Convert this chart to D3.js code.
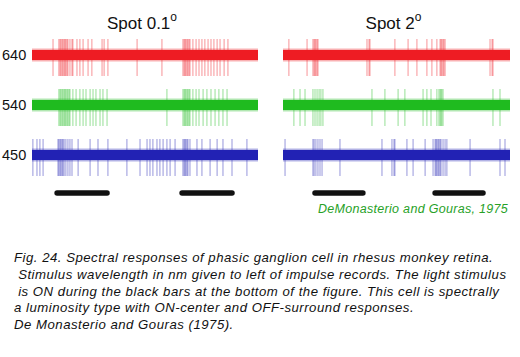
<!DOCTYPE html>
<html><head><meta charset="utf-8">
<script src="https://cdn.jsdelivr.net/npm/d3@7"></script>
<style>
body{margin:0;background:#fff;}
svg{display:block;font-family:"Liberation Sans",Arial,Helvetica,sans-serif;}
</style></head>
<body>
<svg id="chart" width="520" height="357"></svg>
<script>
// ---- data (time in % of record) ----
const wavelengths = ["640", "540", "450"];
const traceColors = ["#ee1c23", "#1fbb1f", "#2222b4"];
const panelTitles = ["Spot 0.1", "Spot 2"];

const spikesSpot01_640 = [9.3, 11.9, 12.4, 12.8, 13.3, 13.7, 14.2, 14.6, 15.0, 15.5, 15.9, 16.8, 17.7, 18.1, 19.9, 21.2, 22.6, 24.8, 26.5, 31.0, 31.9, 33.6, 46.5, 57.5, 66.8, 67.3, 67.7, 68.1, 68.6, 69.0, 69.5, 69.9, 71.2, 72.6, 73.9, 75.2, 76.5, 77.9, 79.2, 80.5, 81.9, 83.2, 85.0, 86.7];
const spikesSpot01_540 = [11.9, 12.4, 12.8, 13.3, 13.7, 14.2, 14.6, 15.0, 15.5, 15.9, 16.4, 16.8, 18.1, 19.5, 21.2, 22.6, 23.9, 25.7, 27.0, 28.3, 30.1, 31.4, 33.2, 59.7, 66.8, 67.3, 67.7, 68.1, 68.6, 69.0, 69.5, 69.9, 71.2, 72.6, 73.9, 75.7, 77.4, 79.2, 81.0, 82.7, 84.5, 86.3];
const spikesSpot01_450 = [0.4, 2.2, 3.5, 4.9, 11.5, 11.9, 12.4, 12.8, 13.3, 13.7, 14.2, 15.0, 15.9, 16.8, 17.7, 20.4, 25.7, 29.2, 33.6, 42.0, 47.8, 50.9, 52.2, 53.5, 55.3, 56.6, 58.0, 59.7, 61.1, 63.3, 66.8, 67.3, 67.7, 68.1, 68.6, 69.0, 69.9, 73.0, 75.2, 78.8, 81.9, 84.5, 88.5, 95.1];

const spikesSpot2_640 = [2.6, 10.6, 13.2, 13.7, 14.1, 14.5, 15.0, 15.4, 37.0, 37.9, 38.3, 49.3, 55.1, 59.0, 63.4, 65.6, 67.8, 69.2, 69.6, 70.0, 70.5, 70.9, 71.4, 91.2, 92.1, 92.5];
const spikesSpot2_540 = [4.8, 7.5, 9.7, 13.2, 14.1, 15.0, 15.9, 16.7, 17.6, 39.2, 44.9, 50.7, 53.7, 61.7, 63.4, 65.2, 67.8, 68.7, 69.2, 69.6, 70.0, 70.5, 92.5, 95.6];
const spikesSpot2_450 = [0.9, 13.2, 13.7, 14.5, 15.4, 16.3, 17.2, 25.1, 43.6, 48.0, 48.9, 49.3, 54.6, 57.3, 62.6, 66.1, 67.0, 67.4, 67.8, 68.3, 68.7, 69.2, 69.6, 70.5, 71.4, 72.2, 82.4, 95.6, 97.8];

const stimulusSpot01 = [[11.1, 33.2], [66.4, 88.5]];
const stimulusSpot2 = [[14.1, 35.2], [67.0, 88.1]];

const credit = "DeMonasterio and Gouras, 1975";
const captionLines = [
  "Fig. 24. Spectral responses of phasic ganglion cell in rhesus monkey retina.",
  " Stimulus wavelength in nm given to left of impulse records. The light stimulus",
  " is ON during the black bars at the bottom of the figure. This cell is spectrally",
  "a luminosity type with ON-center and OFF-surround responses.",
  "De Monasterio and Gouras (1975)."
];

// ---- drawing ----
const svg = d3.select("#chart");
const panels = [
  {title: panelTitles[0], trains: [spikesSpot01_640, spikesSpot01_540, spikesSpot01_450], stim: stimulusSpot01, range: [32, 258]},
  {title: panelTitles[1], trains: [spikesSpot2_640, spikesSpot2_540, spikesSpot2_450], stim: stimulusSpot2, range: [283, 510]}
];
const y = d3.scalePoint().domain(wavelengths).range([55, 155]);

// wavelength labels
svg.append("g").selectAll("text").data(wavelengths).join("text")
  .attr("x", 2).attr("y", d => y(d)).attr("dy", "0.36em")
  .attr("font-size", 14.5).attr("fill", "#111").text(d => d);

panels.forEach(p => {
  const x = d3.scaleLinear().domain([0, 100]).range(p.range);
  const g = svg.append("g");
  const cx = (p.range[0] + p.range[1]) / 2;
  const t = g.append("text").attr("x", cx - 3).attr("y", 29)
    .attr("text-anchor", "middle").attr("font-size", 17).attr("fill", "#111");
  t.append("tspan").text(p.title);
  t.append("tspan").attr("dy", -8).attr("font-size", 12).text("o");

  wavelengths.forEach((w, i) => {
    const c = traceColors[i];
    const yc = y(w);
    // spikes
    g.append("g").selectAll("line").data(p.trains[i]).join("line")
      .attr("x1", d => x(d)).attr("x2", d => x(d))
      .attr("y1", yc - 16).attr("y2", yc + 21)
      .attr("stroke", c).attr("stroke-width", 0.8).attr("stroke-opacity", 0.6);
    // noise band
    g.append("rect").attr("x", x(0)).attr("width", x(100) - x(0))
      .attr("y", yc - 6.5).attr("height", 13).attr("fill", c).attr("opacity", 0.35);
    g.append("rect").attr("x", x(0)).attr("width", x(100) - x(0))
      .attr("y", yc - 5).attr("height", 10).attr("fill", c);
  });

  g.append("g").selectAll("line").data(p.stim).join("line")
    .attr("x1", d => x(d[0])).attr("x2", d => x(d[1]))
    .attr("y1", 193).attr("y2", 193)
    .attr("stroke", "#111").attr("stroke-width", 5.5).attr("stroke-linecap", "round");
});

svg.append("text").attr("x", 508).attr("y", 213).attr("text-anchor", "end")
  .attr("font-size", 12.5).attr("letter-spacing", 0.3).attr("font-style", "italic").attr("fill", "#27a127").text(credit);

svg.append("g").selectAll("text").data(captionLines).join("text")
  .attr("x", 14).attr("y", (d, i) => 262 + i * 16.8)
  .attr("font-size", 13.2).attr("letter-spacing", 0.5).attr("font-style", "italic").attr("fill", "#111")
  .attr("xml:space", "preserve").style("white-space", "pre").text(d => d);
</script>
</body></html>
